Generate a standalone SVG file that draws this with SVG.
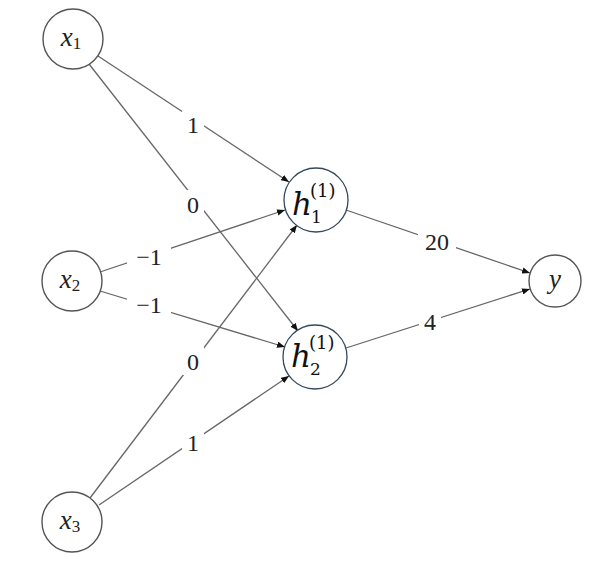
<svg xmlns="http://www.w3.org/2000/svg" width="593" height="568" viewBox="0 0 593 568">
<style>
.n{fill:#fff;stroke:#555;stroke-width:1.4}
.h{fill:#fff;stroke:#34495e;stroke-width:1.3}
.e{stroke:#666;stroke-width:1.3;fill:none;marker-end:url(#a)}
.lb{fill:#fff;stroke:none}
.t{font-family:"Liberation Serif","DejaVu Serif",serif;font-size:24px;fill:#222;text-anchor:middle}
.v{font-family:"Liberation Serif","DejaVu Serif",serif;font-style:italic;font-size:27px;fill:#222;text-anchor:middle}
.hv{font-family:"DejaVu Serif","Liberation Serif",serif;fill:#111}
</style>
<defs>
<marker id="a" viewBox="0 0 10 8" refX="10" refY="4" markerWidth="8" markerHeight="6.4" markerUnits="userSpaceOnUse" orient="auto">
<path d="M0,0 L10,4 L0,8 z" fill="#111"/>
</marker>
</defs>
<g id="connectors">
<line class="e" x1="98" y1="56" x2="289" y2="182"/>
<line class="e" x1="89" y1="64" x2="298" y2="331"/>
<line class="e" x1="100" y1="272" x2="285" y2="210"/>
<line class="e" x1="100" y1="291" x2="285" y2="347"/>
<line class="e" x1="90" y1="498" x2="297" y2="225"/>
<line class="e" x1="99" y1="505" x2="289" y2="376"/>
<line class="e" x1="346" y1="210" x2="530" y2="273"/>
<line class="e" x1="346" y1="348" x2="530" y2="289"/>
<rect class="lb" x="182" y="110" width="22" height="28"/>
<text class="t" x="193" y="133">1</text>
<rect class="lb" x="182" y="190" width="22" height="28"/>
<text class="t" x="193" y="213">0</text>
<rect class="lb" x="127" y="242" width="44" height="28"/>
<text class="t" x="149" y="265">−1</text>
<rect class="lb" x="127" y="290" width="44" height="28"/>
<text class="t" x="149" y="313">−1</text>
<rect class="lb" x="182" y="347" width="22" height="28"/>
<text class="t" x="193" y="370">0</text>
<rect class="lb" x="182" y="428" width="22" height="28"/>
<text class="t" x="193" y="451">1</text>
<rect class="lb" x="418" y="227" width="38" height="28"/>
<text class="t" x="437" y="250">20</text>
<rect class="lb" x="419" y="307" width="22" height="28"/>
<text class="t" x="430" y="330">4</text>
</g>
<g id="x1">
<circle class="n" cx="73" cy="39" r="30"/>
<text class="v" x="71" y="46">x<tspan font-style="normal" font-size="17" dy="3">1</tspan></text>
</g>
<g id="x2">
<circle class="n" cx="72" cy="281" r="30"/>
<text class="v" x="70" y="288">x<tspan font-style="normal" font-size="17" dy="3">2</tspan></text>
</g>
<g id="x3">
<circle class="n" cx="72" cy="522" r="30"/>
<text class="v" x="70" y="529">x<tspan font-style="normal" font-size="17" dy="3">3</tspan></text>
</g>
<g id="h1">
<circle class="h" cx="316" cy="200" r="32"/>
<text class="hv" x="292" y="215" font-size="31" font-style="italic">h</text>
<text class="hv" x="310" y="197" font-size="18">(1)</text>
<text class="hv" x="311" y="223" font-size="17">1</text>
</g>
<g id="h2">
<circle class="h" cx="315" cy="357" r="32"/>
<text class="hv" x="291" y="367" font-size="31" font-style="italic">h</text>
<text class="hv" x="309" y="349" font-size="18">(1)</text>
<text class="hv" x="310" y="375" font-size="17">2</text>
</g>
<g id="y">
<circle class="n" cx="555" cy="281" r="26"/>
<text class="v" x="555" y="288">y</text>
</g>
</svg>
